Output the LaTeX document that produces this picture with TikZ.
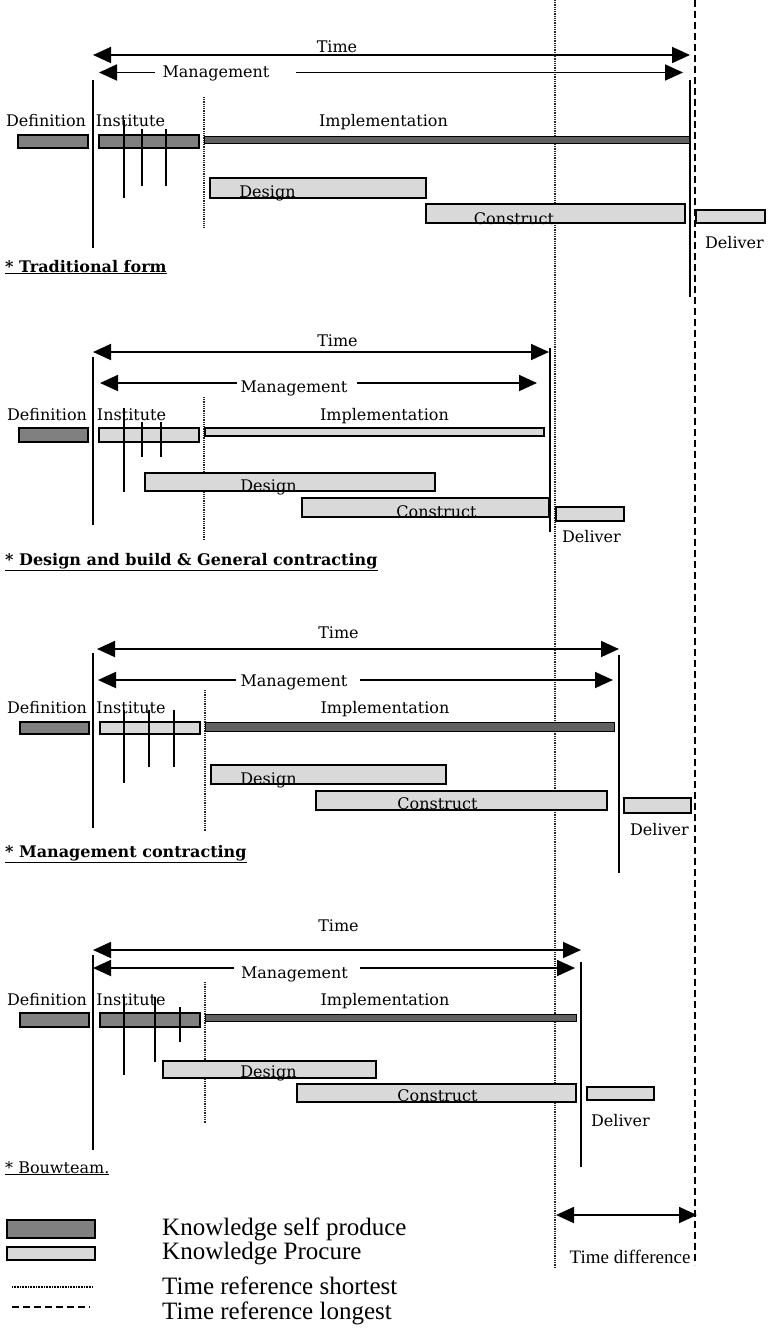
\documentclass[tikz,border=0pt]{standalone}
\usepackage{fontspec}
\setmainfont{DejaVu Serif}
\newfontfamily\legfont{Liberation Serif}
\usetikzlibrary{arrows.meta}
\begin{document}
\begin{tikzpicture}[x=1pt,y=-1pt,
  lab/.style={font=\fontsize{16}{18}\selectfont, inner sep=0pt, anchor=base},
  head/.style={font=\fontsize{16}{18}\selectfont\bfseries, inner sep=0pt, anchor=base west},
  selfbar/.style={draw=black, line width=1.2pt, fill=black!50},
  procbar/.style={draw=black, line width=1.2pt, fill=black!15},
  implself/.style={draw=black, line width=1pt, fill=black!62},
  solidv/.style={line width=1.6pt},
  dotv/.style={line width=1.1pt, black!85, dash pattern=on 1pt off 0.8pt},
  dashv/.style={line width=1.6pt, dash pattern=on 7pt off 4pt},
  tickline/.style={line width=1.4pt},
  darr/.style={line width=1.8pt, {Triangle[length=18pt,width=16pt]}-{Triangle[length=18pt,width=16pt]}},
  larr/.style={line width=1.8pt, {Triangle[length=18pt,width=16pt]}-},
  rarr/.style={line width=1.8pt, -{Triangle[length=18pt,width=16pt]}},
  legtext/.style={font=\legfont\fontsize{25}{28}\selectfont, inner sep=0pt, anchor=base west}
]
\useasboundingbox (0,0) rectangle (768,1331);
\fill[white] (0,0) rectangle (768,1331);

% global reference lines
\draw[dotv] (555,0) -- (555,1268);
\draw[dashv] (695,0) -- (695,1265);

% ================= Section 1: Traditional form =================
\coordinate (t1L) at (93,55);  \coordinate (t1R) at (690,55);
\draw[darr] (t1L) -- (t1R);
\node[lab] (time1) at (337,52) {Time};
\coordinate (m1L) at (99,72.5); \coordinate (m1a) at (155,72.5);
\coordinate (m1b) at (296,72.5); \coordinate (m1R) at (683,72.5);
\draw[larr] (m1L) -- (m1a);
\draw[rarr] (m1b) -- (m1R);
\node[lab] (man1) at (216,77) {Management};
\draw[solidv] (93,80) -- (93,248);
\draw[dotv] (204,97) -- (204,227);
\node[lab] (def1) at (46,126) {Definition};
\node[lab] (ins1) at (130.5,126) {Institute};
\node[lab] (imp1) at (383.5,126) {Implementation};
\draw[selfbar] (18,135) rectangle (88,148);
\draw[selfbar] (99,135) rectangle (199,148);
\draw[implself] (204,136) rectangle (690,143);
\draw[tickline] (124,120) -- (124,198);
\draw[tickline] (142,129) -- (142,186);
\draw[tickline] (166,129) -- (166,186);
\draw[procbar] (210,178) rectangle (426,198);
\node[lab] (des1) at (267.5,197) {Design};
\draw[procbar] (426,204) rectangle (685,223);
\node[lab] (con1) at (514,224) {Construct};
\draw[solidv] (690,80) -- (690,297);
\draw[procbar] (696,210) rectangle (765,223);
\node[lab] (del1) at (734.5,248) {Deliver};
\node[head] (h1) at (5,272) {\underline{* Traditional form}};

% ================= Section 2: Design and build =================
\coordinate (t2L) at (93,352);  \coordinate (t2R) at (549,352);
\draw[darr] (t2L) -- (t2R);
\node[lab] (time2) at (337.5,346) {Time};
\coordinate (m2L) at (100,383); \coordinate (m2a) at (237,383);
\coordinate (m2b) at (357,383); \coordinate (m2R) at (537,383);
\draw[larr] (m2L) -- (m2a);
\draw[rarr] (m2b) -- (m2R);
\node[lab] (man2) at (294,392) {Management};
\draw[solidv] (93,357) -- (93,525);
\draw[dotv] (204,397) -- (204,540);
\node[lab] (def2) at (47,420) {Definition};
\node[lab] (ins2) at (131.5,420) {Institute};
\node[lab] (imp2) at (384.5,420) {Implementation};
\draw[selfbar] (19,428) rectangle (88,442);
\draw[procbar] (99,428) rectangle (199,442);
\draw[procbar] (205,428) rectangle (544,436);
\draw[tickline] (124,408) -- (124,492);
\draw[tickline] (142,422) -- (142,457);
\draw[tickline] (161,422) -- (161,457);
\draw[procbar] (145,473) rectangle (435,491);
\node[lab] (des2) at (268.5,491) {Design};
\draw[procbar] (302,498) rectangle (549,517);
\node[lab] (con2) at (436.5,517) {Construct};
\draw[solidv] (550,348) -- (550,532);
\draw[procbar] (556,507) rectangle (624,521);
\node[lab] (del2) at (591.5,542) {Deliver};
\node[head] (h2) at (5,565) {\underline{* Design and build \& General contracting}};

% ================= Section 3: Management contracting =================
\coordinate (t3L) at (97,649);  \coordinate (t3R) at (619,649);
\draw[darr] (t3L) -- (t3R);
\node[lab] (time3) at (338.5,638) {Time};
\coordinate (m3L) at (98,680); \coordinate (m3a) at (236,680);
\coordinate (m3b) at (360,680); \coordinate (m3R) at (613,680);
\draw[larr] (m3L) -- (m3a);
\draw[rarr] (m3b) -- (m3R);
\node[lab] (man3) at (294,686) {Management};
\draw[solidv] (93,653) -- (93,828);
\draw[dotv] (205,690) -- (205,832);
\node[lab] (def3) at (47,713) {Definition};
\node[lab] (ins3) at (131,713) {Institute};
\node[lab] (imp3) at (385,713) {Implementation};
\draw[selfbar] (20,722) rectangle (89,734);
\draw[procbar] (100,722) rectangle (200,734);
\draw[implself] (205,722) rectangle (614,731);
\draw[tickline] (124,710) -- (124,783);
\draw[tickline] (149,710) -- (149,767);
\draw[tickline] (174,710) -- (174,767);
\draw[procbar] (211,765) rectangle (446,784);
\node[lab] (des3) at (268.5,784) {Design};
\draw[procbar] (316,791) rectangle (607,810);
\node[lab] (con3) at (437.5,809) {Construct};
\draw[solidv] (619,655) -- (619,873);
\draw[procbar] (624,798) rectangle (691,813);
\node[lab] (del3) at (659.5,835) {Deliver};
\node[head] (h3) at (5,857) {\underline{* Management contracting}};

% ================= Section 4: Bouwteam =================
\coordinate (t4L) at (93,950);  \coordinate (t4R) at (581,950);
\draw[darr] (t4L) -- (t4R);
\node[lab] (time4) at (338.5,931) {Time};
\coordinate (m4L) at (93,968); \coordinate (m4a) at (234,968);
\coordinate (m4b) at (360,968); \coordinate (m4R) at (575,968);
\draw[larr] (m4L) -- (m4a);
\draw[rarr] (m4b) -- (m4R);
\node[lab] (man4) at (294.5,978) {Management};
\draw[solidv] (93,955) -- (93,1150);
\draw[dotv] (205,982) -- (205,1123);
\node[lab] (def4) at (47,1005) {Definition};
\node[lab] (ins4) at (131,1005) {Institute};
\node[lab] (imp4) at (385,1005) {Implementation};
\draw[selfbar] (20,1013) rectangle (89,1027);
\draw[selfbar] (100,1013) rectangle (200,1027);
\draw[implself] (205,1014) rectangle (576,1021);
\draw[tickline] (124,997) -- (124,1075);
\draw[tickline] (155,997) -- (155,1062);
\draw[tickline] (180,1007) -- (180,1042);
\draw[procbar] (163,1061) rectangle (376,1078);
\node[lab] (des4) at (268.5,1077) {Design};
\draw[procbar] (297,1084) rectangle (576,1102);
\node[lab] (con4) at (437.5,1101) {Construct};
\draw[solidv] (581,962) -- (581,1167);
\draw[procbar] (587,1087) rectangle (654,1100);
\node[lab] (del4) at (620.5,1126) {Deliver};
\node[lab, anchor=base west] (h4) at (5,1173) {\underline{* Bouwteam.}};

% ================= Time difference =================
\coordinate (tdL) at (556,1215); \coordinate (tdR) at (697,1215);
\draw[darr] (tdL) -- (tdR);
\node[font=\legfont\fontsize{19}{21}\selectfont, inner sep=0pt, anchor=base] (tdtext) at (630,1263) {Time difference};

% ================= Legend =================
\draw[selfbar] (7,1220) rectangle (95,1238);
\draw[procbar] (7,1247) rectangle (95,1260);
\draw[line width=1.6pt, dash pattern=on 1pt off 0.6pt] (12,1287) -- (93,1287);
\draw[line width=1.4pt, dash pattern=on 7pt off 4pt] (12,1307) -- (90,1307);
\node[legtext] (lg1) at (162,1235) {Knowledge self produce};
\node[legtext] (lg2) at (162,1259) {Knowledge Procure};
\node[legtext] (lg3) at (162,1294) {Time reference shortest};
\node[legtext] (lg4) at (162,1319) {Time reference longest};
\end{tikzpicture}
\end{document}
